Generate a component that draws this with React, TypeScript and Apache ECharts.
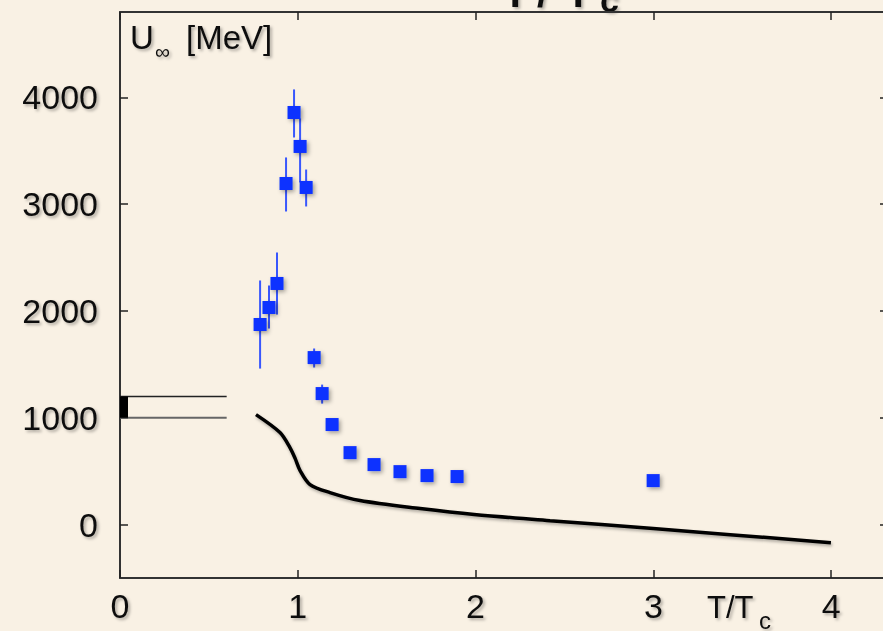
import React, { useEffect, useRef } from "react";
import * as echarts from "echarts";

// Lattice data points: T/Tc and U_inf [MeV]
const temps = [0.788, 0.838, 0.883, 0.934, 0.979, 1.013, 1.047, 1.092, 1.137, 1.193, 1.294, 1.429, 1.575, 1.727, 1.896, 2.999];
const uInf = [1874, 2033, 2258, 3194, 3859, 3541, 3157, 1564, 1227, 937, 674, 562, 496, 459, 450, 412];

// Error bars: T/Tc, lower, upper
const errT = [0.788, 0.838, 0.883, 0.934, 0.979, 1.013, 1.047, 1.092, 1.137];
const errLow = [1461, 1836, 1967, 2932, 3625, 3204, 2979, 1471, 1133];
const errHigh = [2286, 2239, 2548, 3438, 4075, 3803, 3325, 1649, 1311];

// Model curve
const curveT = [0.765, 0.9, 0.956, 0.985, 1.013, 1.069, 1.181, 1.35, 1.688, 1.992, 2.419, 2.999, 3.999];
const curveU = [1030, 862, 721, 620, 506, 375, 300, 225, 150, 94, 37, -37, -169];

// T=0 band
const bandLevels = [1000, 1200];
const bandEndT = 0.6;
const bandBoxT = 0.045;

// Axes
const xTicks = [0, 1, 2, 3, 4];
const yTicks = [0, 1000, 2000, 3000, 4000];

const BG = "#F9F1E4";
const TXT = "#111";
const textShadow = { textShadowColor: "rgba(0,0,0,0.3)", textShadowBlur: 3, textShadowOffsetX: 2, textShadowOffsetY: 2 };

export default function App() {
  const ref = useRef<HTMLDivElement>(null);
  useEffect(() => {
    document.body.style.margin = "0";
    document.body.style.background = BG;
    const chart = echarts.init(ref.current!, null, { renderer: "svg" });
    const font = "Liberation Sans, Arial, sans-serif";
    const axisCommon = {
      type: "value" as const,
      splitLine: { show: false },
      axisLine: { show: true, onZero: false, lineStyle: { color: "#333", width: 2 } },
      axisTick: { show: true, inside: true, length: 8, lineStyle: { color: "#222", width: 1.5 } },
    };
    const fmt = (v: number) => String(v);
    chart.setOption({
      animation: false,
      backgroundColor: BG,
      grid: { left: 120, top: 12, width: 768, height: 566, containLabel: false, outerBoundsMode: "none" },
      xAxis: [
        {
          ...axisCommon,
          position: "bottom",
          min: 0,
          max: 4.32,
          axisTick: { ...axisCommon.axisTick, customValues: xTicks },
          axisLabel: { customValues: xTicks, formatter: fmt, fontSize: 34, color: TXT, fontFamily: font, margin: 11, ...textShadow },
        },
        {
          ...axisCommon,
          position: "top",
          min: 0,
          max: 4.32,
          axisTick: { ...axisCommon.axisTick, customValues: xTicks },
          axisLabel: { show: false },
        },
      ],
      yAxis: [
        {
          ...axisCommon,
          position: "left",
          min: -500,
          max: 4800,
          axisTick: { ...axisCommon.axisTick, customValues: yTicks },
          axisLabel: { customValues: yTicks, formatter: fmt, fontSize: 34, color: TXT, fontFamily: font, margin: 22, ...textShadow },
        },
        {
          ...axisCommon,
          position: "right",
          min: -500,
          max: 4800,
          axisTick: { ...axisCommon.axisTick, customValues: yTicks },
          axisLabel: { show: false },
        },
      ],
      series: [
        {
          type: "custom",
          renderItem: (params: any, api: any) => {
            const lvl = api.value(0);
            const p0 = api.coord([0, lvl]);
            const p1 = api.coord([bandEndT, lvl]);
            return {
              type: "line",
              shape: { x1: p0[0], y1: p0[1], x2: p1[0], y2: p1[1] },
              style: { stroke: params.dataIndex === 0 ? "#666" : "#222", lineWidth: params.dataIndex === 0 ? 2 : 1.5 },
            };
          },
          data: bandLevels.map((v) => [v]),
          z: 2,
        },
        {
          type: "custom",
          renderItem: (params: any, api: any) => {
            const a = api.coord([0, bandLevels[1]]);
            const b = api.coord([bandBoxT, bandLevels[0]]);
            return {
              type: "rect",
              shape: { x: a[0], y: a[1], width: b[0] - a[0], height: b[1] - a[1] },
              style: { fill: "#000" },
            };
          },
          data: [[0]],
          z: 3,
        },
        {
          type: "line",
          data: curveT.map((t, i) => [t, curveU[i]]),
          showSymbol: false,
          smooth: 0.3,
          lineStyle: { color: "#000", width: 3.5, shadowColor: "rgba(0,0,0,0.3)", shadowBlur: 3, shadowOffsetX: 1, shadowOffsetY: 2 },
          z: 3,
        },
        {
          type: "custom",
          renderItem: (params: any, api: any) => {
            const lo = api.coord([api.value(0), api.value(1)]);
            const hi = api.coord([api.value(0), api.value(2)]);
            return {
              type: "line",
              shape: { x1: lo[0], y1: lo[1], x2: hi[0], y2: hi[1] },
              style: { stroke: "#2446ff", lineWidth: 2, opacity: 0.9 },
            };
          },
          data: errT.map((t, i) => [t, errLow[i], errHigh[i]]),
          z: 4,
        },
        {
          type: "scatter",
          data: temps.map((t, i) => [t, uInf[i]]),
          symbol: "rect",
          symbolSize: 13,
          itemStyle: { color: "#0a30ff", opacity: 1, shadowColor: "rgba(0,0,0,0.35)", shadowBlur: 4, shadowOffsetX: 2, shadowOffsetY: 2 },
          z: 5,
        },
      ],
      graphic: [
        { type: "text", left: 130, top: 21, style: { text: "U", fontSize: 33, fill: TXT, fontFamily: font, ...textShadow } },
        { type: "text", left: 155, top: 41, style: { text: "∞", fontSize: 21, fill: TXT, fontFamily: font, ...textShadow } },
        { type: "text", left: 186, top: 21, style: { text: "[MeV]", fontSize: 33, fill: TXT, fontFamily: font, ...textShadow } },
        { type: "text", left: 707, top: 592, style: { text: "T/T", fontSize: 31, fill: TXT, fontFamily: font, ...textShadow } },
        { type: "text", left: 759, top: 608, style: { text: "c", fontSize: 24, fill: TXT, fontFamily: font, ...textShadow } },
        { type: "text", left: 503, top: -27, style: { text: "T", fontSize: 40, fontWeight: "bold", fill: TXT, fontFamily: font, ...textShadow } },
        { type: "text", left: 537, top: -27, style: { text: "/", fontSize: 40, fontWeight: "bold", fill: TXT, fontFamily: font, ...textShadow } },
        { type: "text", left: 566, top: -27, style: { text: "T", fontSize: 40, fontWeight: "bold", fill: TXT, fontFamily: font, ...textShadow } },
        { type: "text", left: 600, top: -17, style: { text: "c", fontSize: 34, fontWeight: "bold", fill: TXT, fontFamily: font, ...textShadow } },
      ],
    });
    return () => chart.dispose();
  }, []);
  return <div ref={ref} style={{ width: 883, height: 631 }} />;
}
